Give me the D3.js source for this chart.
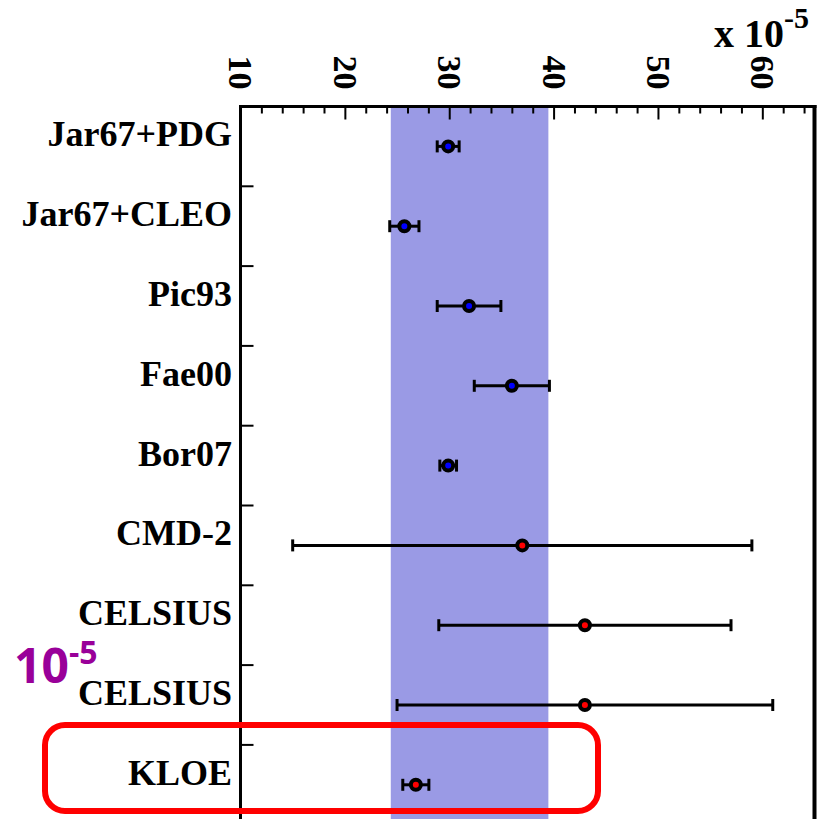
<!DOCTYPE html>
<html lang="en">
    <head>
        <meta charset="utf-8">
        <title>Branching ratio comparison</title>
        <script type="text/javascript" src="https://d3js.org/d3.v7.min.js"></script>
        <style type="text/css">
            body { margin: 0; background: #fff; }
            svg { display: block; }
            .lab { font-family: "Liberation Serif", "Times New Roman", serif; font-weight: bold; }
        </style>
    </head>
    <body>
        <script>

        // Measurements, in units of 10^-5
        var labels = ["Jar67+PDG", "Jar67+CLEO", "Pic93", "Fae00", "Bor07", "CMD-2", "CELSIUS", "CELSIUS", "KLOE"];
        var values = [29.9, 25.7, 31.9, 36.0, 29.9, 37.0, 43.0, 43.0, 26.8];
        var errors = [1.05, 1.4, 3.05, 3.6, 0.8, 22.0, 14.0, 18.0, 1.25];
        var kinds  = ["old", "old", "old", "old", "old", "new", "new", "new", "new"];

        // Shaded band and axis ticks
        var band = [24.4, 39.5];
        var xDomain = [10, 65];
        var xTicks = [10, 20, 30, 40, 50, 60];

        var w = 825;
        var h = 819;
        var top0 = 106.5;

        var svg = d3.select("body")
                    .append("svg")
                    .attr("width", w)
                    .attr("height", h);

        var x = d3.scaleLinear().domain(xDomain).range([240.5, 814.5]);
        var y = d3.scaleBand().domain(d3.range(labels.length)).range([top0, top0 + 79.8 * labels.length]);
        var color = d3.scaleOrdinal().domain(["old", "new"]).range(["#0000ff", "#ff0000"]);

        // Shaded band
        svg.append("rect")
           .attr("x", x(band[0]))
           .attr("y", top0)
           .attr("width", x(band[1]) - x(band[0]))
           .attr("height", h - top0 + 10)
           .style("fill", "#9a9ae5");

        // Top axis: major ticks with rotated labels
        var axis = svg.append("g")
                      .attr("transform", "translate(0," + top0 + ")")
                      .call(d3.axisTop(x).tickValues(xTicks).tickSize(-13).tickSizeOuter(0));
        axis.select(".domain").remove();
        axis.selectAll(".tick line").style("stroke", "#000").style("stroke-width", 2);
        axis.selectAll(".tick text")
            .attr("class", "lab")
            .attr("x", 0)
            .attr("y", 0)
            .attr("dy", "0.34em")
            .attr("text-anchor", "middle")
            .attr("transform", "translate(0,-34) rotate(90)")
            .style("font-size", "34px")
            .style("fill", "#000");

        // Minor ticks every 2 units
        var minor = d3.range(xDomain[0], xDomain[1], 2).filter(function(v) { return xTicks.indexOf(v) < 0 && v > xDomain[0]; });
        svg.append("g")
           .attr("transform", "translate(0," + top0 + ")")
           .call(d3.axisTop(x).tickValues(minor).tickSize(-7).tickSizeOuter(0).tickFormat(""))
           .call(function(g) { g.select(".domain").remove(); })
           .selectAll(".tick line").style("stroke", "#000").style("stroke-width", 2);

        // Row separator ticks on the left frame
        svg.append("g")
           .selectAll("line")
           .data(d3.range(1, labels.length))
           .enter()
           .append("line")
           .attr("x1", x(xDomain[0]))
           .attr("x2", x(xDomain[0]) + 13)
           .attr("y1", function(d) { return y(d); })
           .attr("y2", function(d) { return y(d); })
           .style("stroke", "#000")
           .style("stroke-width", 2);

        // Frame
        svg.append("line").attr("x1", x(xDomain[0])).attr("x2", x(xDomain[0])).attr("y1", top0 - 1.5).attr("y2", h + 10)
           .style("stroke", "#000").style("stroke-width", 3);
        svg.append("line").attr("x1", x(xDomain[1])).attr("x2", x(xDomain[1])).attr("y1", top0 - 1.5).attr("y2", h + 10)
           .style("stroke", "#000").style("stroke-width", 4);
        svg.append("line").attr("x1", x(xDomain[0]) - 1.5).attr("x2", x(xDomain[1]) + 2).attr("y1", top0).attr("y2", top0)
           .style("stroke", "#000").style("stroke-width", 3);

        // Row labels
        svg.append("g")
           .selectAll("text")
           .data(labels)
           .enter()
           .append("text")
           .attr("class", "lab")
           .attr("x", 232)
           .attr("y", function(d, i) { return y(i) + y.bandwidth() / 2; })
           .attr("text-anchor", "end")
           .style("font-size", "36px")
           .text(function(d) { return d; });

        // Error bars
        var rows = values.map(function(v, i) { return { v: v, e: errors[i], k: kinds[i], i: i }; });
        var bars = svg.append("g").selectAll("g")
                      .data(rows)
                      .enter()
                      .append("g")
                      .attr("transform", function(d) { return "translate(0," + (y(d.i) + y.bandwidth() / 2) + ")"; });
        bars.append("line")
            .attr("x1", function(d) { return x(d.v - d.e); })
            .attr("x2", function(d) { return x(d.v + d.e); })
            .style("stroke", "#000").style("stroke-width", 3);
        [-1, 1].forEach(function(s) {
            bars.append("line")
                .attr("x1", function(d) { return x(d.v + s * d.e); })
                .attr("x2", function(d) { return x(d.v + s * d.e); })
                .attr("y1", -6).attr("y2", 6)
                .style("stroke", "#000").style("stroke-width", 3);
        });
        bars.append("circle")
            .attr("cx", function(d) { return x(d.v); })
            .attr("r", 5)
            .style("fill", function(d) { return color(d.k); })
            .style("stroke", "#000")
            .style("stroke-width", 4);

        // Exponent label top right
        var ex = svg.append("text").attr("class", "lab").attr("x", 714).attr("y", 47).style("font-size", "40px");
        ex.append("tspan").text("x 10");
        ex.append("tspan").attr("dy", -19).style("font-size", "30px").text("-5");

        // Purple annotation
        var ann = svg.append("text").attr("x", 14).attr("y", 683)
                     .style("font-family", "'Open Sans', sans-serif").style("font-weight", "bold")
                     .style("font-size", "48px").style("fill", "#990099");
        ann.append("tspan").text("10");
        ann.append("tspan").attr("dy", -19).style("font-size", "32px").text("-5");

        // Highlight box around KLOE
        svg.append("rect")
           .attr("x", 45).attr("y", 725)
           .attr("width", 553).attr("height", 86)
           .attr("rx", 20).attr("ry", 20)
           .style("fill", "none")
           .style("stroke", "#ff0000")
           .style("stroke-width", 6);

        </script>
    </body>
</html>
